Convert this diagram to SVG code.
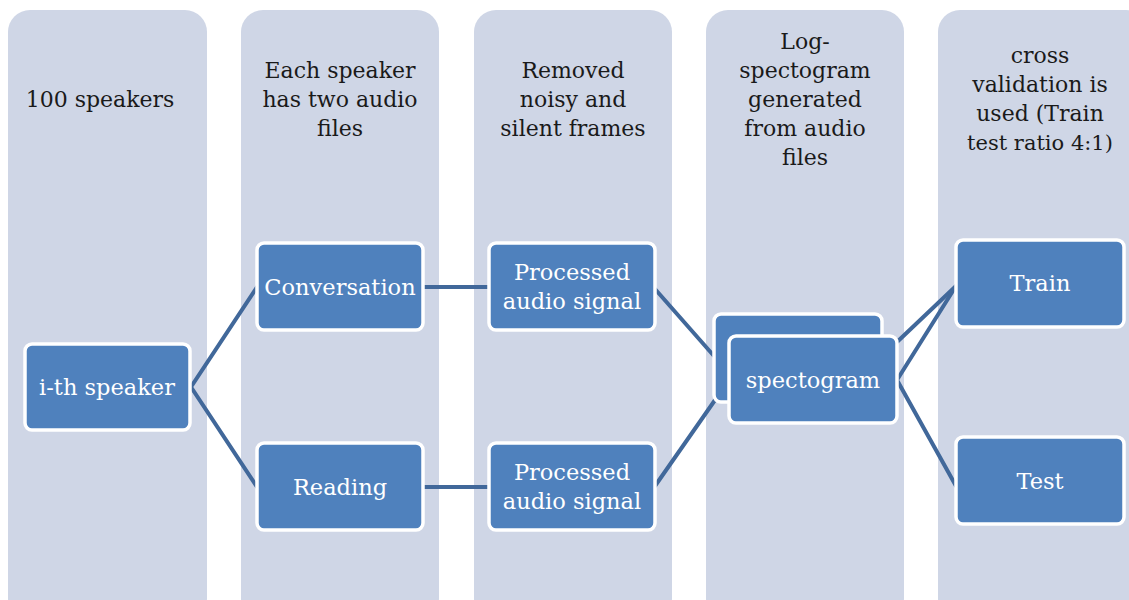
<svg xmlns="http://www.w3.org/2000/svg" width="1129" height="600" viewBox="0 0 1129 600">
  <style>
    .col { fill: #cfd6e6; }
    .box { fill: #4f81bd; stroke: #ffffff; stroke-width: 3.5; }
    .head { font-family: "DejaVu Serif", "Liberation Serif", serif; font-size: 22px; fill: #1a1a1a; text-anchor: middle; }
    .lbl { font-family: "DejaVu Serif", "Liberation Serif", serif; font-size: 22.5px; fill: #ffffff; text-anchor: middle; }
    .conn { stroke: #41689a; stroke-width: 4; fill: none; stroke-linecap: round; }
  </style>

  <!-- stage columns -->
  <g id="columns">
    <rect class="col" x="8" y="10" width="199" height="610" rx="22"/>
    <rect class="col" x="241" y="10" width="198" height="610" rx="22"/>
    <rect class="col" x="474" y="10" width="198" height="610" rx="22"/>
    <rect class="col" x="706" y="10" width="198" height="610" rx="22"/>
    <rect class="col" x="938" y="10" width="210" height="610" rx="22"/>
  </g>

  <!-- stage headings -->
  <g id="headings">
    <text class="head" x="100" y="107">100 speakers</text>
    <text class="head" x="340" y="78">Each speaker</text>
    <text class="head" x="340" y="107">has two audio</text>
    <text class="head" x="340" y="136">files</text>
    <text class="head" x="573" y="78">Removed</text>
    <text class="head" x="573" y="107">noisy and</text>
    <text class="head" x="573" y="136">silent frames</text>
    <text class="head" x="805" y="49">Log-</text>
    <text class="head" x="805" y="78">spectogram</text>
    <text class="head" x="805" y="107">generated</text>
    <text class="head" x="805" y="136">from audio</text>
    <text class="head" x="805" y="165">files</text>
    <text class="head" x="1040" y="63">cross</text>
    <text class="head" x="1040" y="92">validation is</text>
    <text class="head" x="1040" y="121">used (Train</text>
    <text class="head" x="1040" y="150" style="font-size:21px">test ratio 4:1)</text>
  </g>

  <!-- connectors -->
  <g id="connectors">
    <polyline class="conn" points="257,287 191,387 257,487"/>
    <line class="conn" x1="423" y1="287" x2="489" y2="287"/>
    <line class="conn" x1="423" y1="487" x2="489" y2="487"/>
    <line class="conn" x1="655" y1="289" x2="714" y2="356"/>
    <line class="conn" x1="655" y1="486" x2="729" y2="380"/>
    <line class="conn" x1="897" y1="342" x2="956" y2="286"/>
    <polyline class="conn" points="956,286 897,380 956,486"/>
  </g>

  <g id="node-ith-speaker">
    <rect class="box" x="25" y="344" width="165" height="86" rx="7"/>
    <text class="lbl" x="107" y="395">i-th speaker</text>
  </g>
  <g id="node-conversation">
    <rect class="box" x="257" y="243" width="166" height="87" rx="7"/>
    <text class="lbl" x="340" y="295">Conversation</text>
  </g>
  <g id="node-reading">
    <rect class="box" x="257" y="443" width="166" height="87" rx="7"/>
    <text class="lbl" x="340" y="495">Reading</text>
  </g>
  <g id="node-processed-1">
    <rect class="box" x="489" y="243" width="166" height="87" rx="7"/>
    <text class="lbl" x="572" y="280">Processed</text>
    <text class="lbl" x="572" y="309">audio signal</text>
  </g>
  <g id="node-processed-2">
    <rect class="box" x="489" y="443" width="166" height="87" rx="7"/>
    <text class="lbl" x="572" y="480">Processed</text>
    <text class="lbl" x="572" y="509">audio signal</text>
  </g>
  <g id="node-spectogram-back">
    <rect class="box" x="714" y="314" width="168" height="88" rx="7"/>
  </g>
  <g id="node-spectogram">
    <rect class="box" x="729" y="336" width="168" height="87" rx="7"/>
    <text class="lbl" x="813" y="388">spectogram</text>
  </g>
  <g id="node-train">
    <rect class="box" x="956" y="240" width="168" height="87" rx="7"/>
    <text class="lbl" x="1040" y="291">Train</text>
  </g>
  <g id="node-test">
    <rect class="box" x="956" y="437" width="168" height="87" rx="7"/>
    <text class="lbl" x="1040" y="489">Test</text>
  </g>
</svg>
